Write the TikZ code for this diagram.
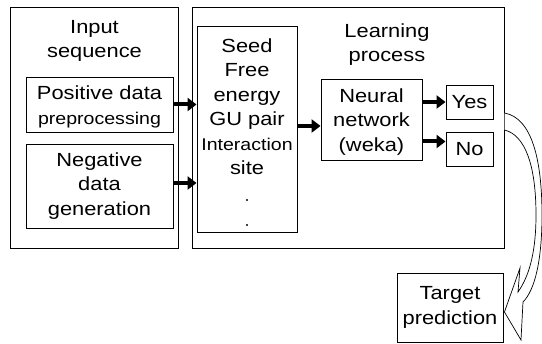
\documentclass[tikz,border=0pt]{standalone}
\usepackage{fontspec}
\newfontfamily\boxfont{Liberation Sans}[FakeStretch=1.15]
\usepackage{tikz}
\usetikzlibrary{arrows.meta,positioning,calc}

\begin{document}
\begin{tikzpicture}[x=1pt,y=-1pt,
  every node/.style={font=\boxfont\fontsize{19}{24.5}\selectfont,align=center,inner sep=0pt},
  bigbox/.style={draw,line width=1pt},
  smallbox/.style={draw,line width=0.9pt},
  fatarrow/.style={line width=4pt,-{Triangle[length=9pt,width=13pt]}}]
\useasboundingbox (0,0) rectangle (542,344);
% input side
\node[bigbox,minimum width=168pt,minimum height=241pt] (input) at (94,128.5) {};
\node (inputtitle) at (94.5,41) {Input\\sequence};
\node[smallbox,minimum width=147pt,minimum height=55pt] (pos) at (99.5,104.5) {};
\node (postxt) at (99.5,107) {Positive data\\\fontsize{17}{20}\selectfont preprocessing};
\node[smallbox,minimum width=147pt,minimum height=84pt] (neg) at (99.5,186) {Negative\\data\\generation};
% learning side
\node[bigbox,minimum width=312pt,minimum height=241pt] (learn) at (348,128.5) {};
\node (learntitle) at (387,44.5) {Learning\\process};
\node[smallbox,minimum width=100pt,minimum height=206pt] (seed) at (247,129) {};
\node (seedtxt) at (247,106.5) {Seed\\Free\\energy\\GU pair\\\fontsize{17}{24.5}\selectfont Interaction\\site};
\fill (247,200) circle (1.1pt);
\fill (247,225) circle (1.1pt);
\node[smallbox,minimum width=101pt,minimum height=81pt] (net) at (371.5,119.5) {};
\node (nettxt) at (371.5,122) {Neural\\network\\(weka)};
\node[smallbox,minimum width=47pt,minimum height=34pt] (yes) at (469.5,102) {Yes};
\node[smallbox,minimum width=47pt,minimum height=34pt] (no) at (469.5,149) {No};
% output
\node[smallbox,minimum width=106pt,minimum height=69pt] (target) at (450,307.5) {Target\\prediction};
% arrows
\draw[fatarrow] (pos.east) -- (seed.west |- pos.east);
\draw[fatarrow] ($(neg.east)+(0,-3)$) -- ($(seed.west |- neg.east)+(0,-3)$);
\draw[fatarrow] ($(seed.east |- net.west)+(0,6.5)$) -- ($(net.west)+(0,6.5)$);
\draw[fatarrow] (net.east |- yes.west) -- (yes.west);
\draw[fatarrow] ($(net.east |- no.west)+(0,-7.5)$) -- ($(no.west)+(0,-7.5)$);
% hollow bent arrow down to the target
\draw[line width=0.7pt,fill=white]
  ($(learn.east |- yes.east)+(0,11)$) .. controls (532,118) and (542,160) .. (542,215)
  .. controls (542,260) and (535,290) .. (523,302) -- (521,340)
  -- ($(target.east)+(1,4.5)$) -- (520,268) -- (518,292)
  .. controls (530,275) and (536,250) .. (536,215)
  .. controls (536,165) and (525,135) .. ($(learn.east |- yes.east)+(0,28)$);
\end{tikzpicture}
\end{document}
